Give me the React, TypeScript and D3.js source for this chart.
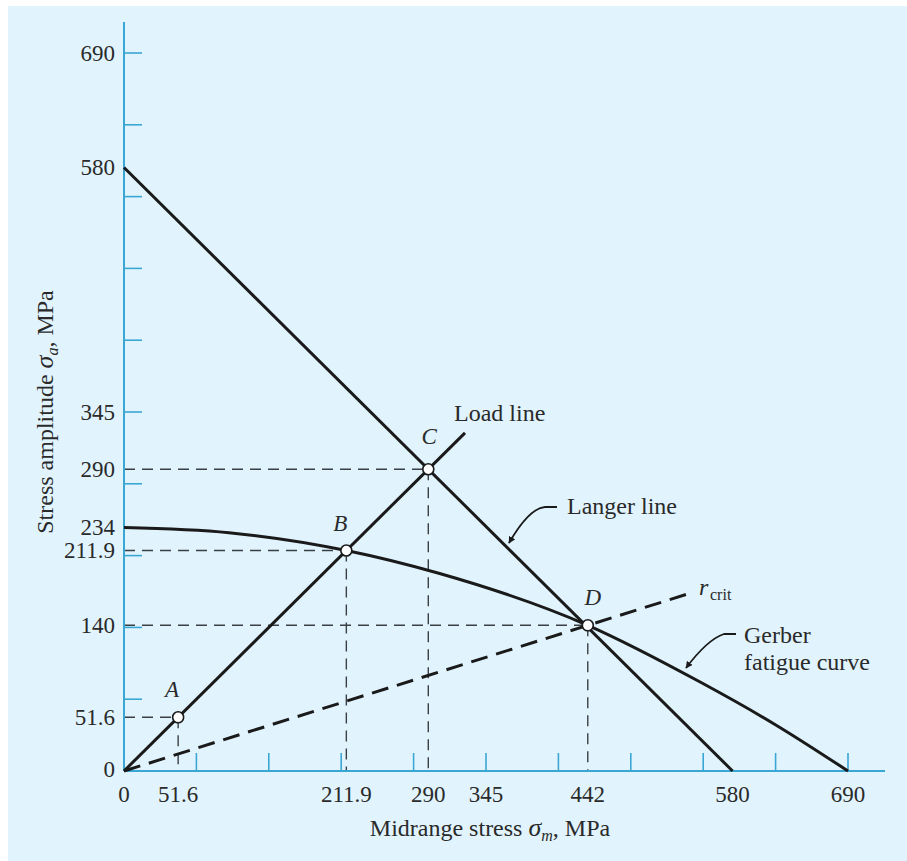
import React from "react";
import * as d3 from "d3";

// ---- data ----
const minorTicks = [69, 138, 207, 276, 345, 414, 483, 552, 621, 690];
const xTickLabels = [0, 51.6, 211.9, 290, 345, 442, 580, 690];
const yTickLabels = [0, 51.6, 140, 211.9, 234, 290, 345, 580, 690];

const langerM = [0, 580];
const langerA = [580, 0];

const loadM = [0, 325];
const loadA = [0, 325];

const critM = [0, 540];
const critA = [0, 171];

// Gerber fatigue curve
const gerberM = [0, 100, 211.9, 300, 442, 550, 620, 690];
const gerberA = [234, 229, 211.9, 190, 140, 85, 45, 0];

const pointNames = ["A", "B", "C", "D"];
const pointM = [51.6, 211.9, 290, 442];
const pointA = [51.6, 211.9, 290, 140];

const W = 907;
const H = 861;
const FONT = "'Liberation Serif', 'Times New Roman', serif";
const AXIS = "#3aa6d4";
const INK = "#1a1a1a";
const TXT = "#2a2a2a";

export default function App() {
  const x = d3.scaleLinear().domain([0, 690]).range([124, 848]);
  const y = d3.scaleLinear().domain([0, 690]).range([771, 53]);

  const line = d3
    .line<[number, number]>()
    .x((d) => x(d[0]))
    .y((d) => y(d[1]));
  const curve = d3
    .line<[number, number]>()
    .x((d) => x(d[0]))
    .y((d) => y(d[1]))
    .curve(d3.curveMonotoneX);

  const zip = (a: number[], b: number[]) =>
    a.map((v, i) => [v, b[i]] as [number, number]);

  const fmt = (v: number) => String(v);
  const letterOffset: Record<string, [number, number]> = {
    A: [-6, -20],
    B: [-6, -20],
    C: [1, -25],
    D: [5, -20],
  };

  return (
    <svg
      width={W}
      height={H}
      style={{ position: "absolute", left: 0, top: 0 }}
      fontFamily={FONT}
    >
      <defs>
        <marker
          id="arr"
          viewBox="0 0 10 10"
          refX="9"
          refY="5"
          markerWidth="7"
          markerHeight="7"
          orient="auto"
          markerUnits="userSpaceOnUse"
        >
          <path d="M0,0 L10,5 L0,10 z" fill={INK} />
        </marker>
      </defs>
      <rect x={0} y={0} width={W} height={H} fill="#ffffff" />
      <rect x={8} y={6} width={W - 8} height={H - 6} fill="#e1f4fd" />

      {/* dashed reference lines */}
      {pointM.map((m, i) => (
        <g key={"ref" + i} stroke="#3a3f44" strokeWidth={1.4} strokeDasharray="11,7" fill="none">
          <line x1={x(0)} x2={x(m)} y1={y(pointA[i])} y2={y(pointA[i])} />
          <line x1={x(m)} x2={x(m)} y1={y(pointA[i])} y2={y(0)} />
        </g>
      ))}

      {/* axes */}
      <line x1={x(0)} x2={x(0)} y1={y(0)} y2={22} stroke={AXIS} strokeWidth={2} />
      <line x1={x(0)} x2={885} y1={y(0)} y2={y(0)} stroke={AXIS} strokeWidth={2} />
      {minorTicks.map((t) => (
        <g key={"t" + t} stroke={AXIS} strokeWidth={1.6}>
          <line x1={x(t)} x2={x(t)} y1={y(0)} y2={y(0) - 18} />
          <line x1={x(0)} x2={x(0) + 18} y1={y(t)} y2={y(t)} />
        </g>
      ))}

      {/* tick labels */}
      {xTickLabels.map((t) => (
        <text
          key={"xl" + t}
          x={x(t)}
          y={y(0) + 31}
          textAnchor="middle"
          fontSize={23}
          fill={TXT}
        >
          {fmt(t)}
        </text>
      ))}
      {yTickLabels.map((t) => (
        <text
          key={"yl" + t}
          x={x(0) - 9}
          y={y(t) + (t === 0 ? -2 : 0)}
          textAnchor="end"
          dominantBaseline="central"
          fontSize={23}
          fill={TXT}
        >
          {fmt(t)}
        </text>
      ))}

      {/* axis titles */}
      <text x={490} y={836} textAnchor="middle" fontSize={24} fill={TXT}>
        Midrange stress{" "}
        <tspan fontStyle="italic" fontSize={26}>σ</tspan>
        <tspan fontStyle="italic" fontSize={16} dy={5}>m</tspan>
        <tspan dy={-5}>, MPa</tspan>
      </text>
      <text
        transform="translate(53,412) rotate(-90)"
        textAnchor="middle"
        fontSize={24}
        fill={TXT}
      >
        Stress amplitude{" "}
        <tspan fontStyle="italic" fontSize={26}>σ</tspan>
        <tspan fontStyle="italic" fontSize={16} dy={5}>a</tspan>
        <tspan dy={-5}>, MPa</tspan>
      </text>

      {/* r_crit dashed line */}
      <path
        d={line(zip(critM, critA)) || ""}
        stroke={INK}
        strokeWidth={3}
        strokeDasharray="17,9"
        fill="none"
      />

      {/* main lines */}
      <path d={line(zip(langerM, langerA)) || ""} stroke={INK} strokeWidth={3} fill="none" />
      <path d={line(zip(loadM, loadA)) || ""} stroke={INK} strokeWidth={3} fill="none" />
      <path d={curve(zip(gerberM, gerberA)) || ""} stroke={INK} strokeWidth={3} fill="none" />

      {/* points */}
      {pointM.map((m, i) => (
        <g key={"p" + i}>
          <circle cx={x(m)} cy={y(pointA[i])} r={5.5} fill="#ffffff" stroke={INK} strokeWidth={1.6} />
          <text
            x={x(m) + letterOffset[pointNames[i]][0]}
            y={y(pointA[i]) + letterOffset[pointNames[i]][1]}
            textAnchor="middle"
            fontStyle="italic"
            fontSize={23}
            fill={TXT}
          >
            {pointNames[i]}
          </text>
        </g>
      ))}

      {/* annotations */}
      <text x={454} y={421} fontSize={24} fill={TXT}>Load line</text>

      <text x={567} y={514} fontSize={24} fill={TXT}>Langer line</text>
      <path
        d="M557,507 L545,507 C532,508 520,524 509,543"
        stroke={INK}
        strokeWidth={1.8}
        fill="none"
        markerEnd="url(#arr)"
      />

      <text x={699} y={595} fontSize={24} fontStyle="italic" fill={TXT}>r</text>
      <text x={710} y={600} fontSize={16} fill={TXT}>crit</text>

      <text x={744} y={643} fontSize={24} fill={TXT}>Gerber</text>
      <text x={744} y={670} fontSize={24} fill={TXT}>fatigue curve</text>
      <path
        d="M736,634 L724,634 C712,638 698,652 686,668"
        stroke={INK}
        strokeWidth={1.8}
        fill="none"
        markerEnd="url(#arr)"
      />
    </svg>
  );
}
